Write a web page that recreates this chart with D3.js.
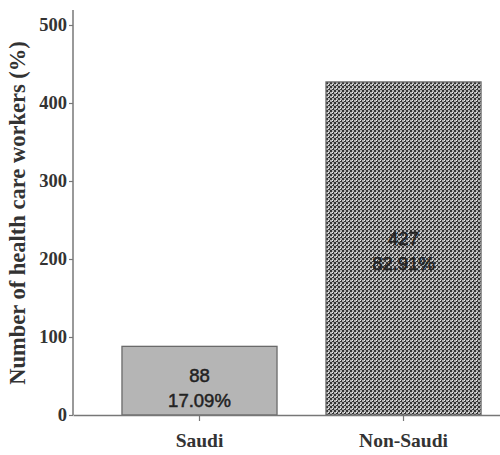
<!DOCTYPE html>
<html>
<head>
<meta charset="utf-8">
<script src="https://cdn.jsdelivr.net/npm/d3@7"></script>
<style>
  body { margin: 0; background: #fff; }
  svg { display: block; }
</style>
</head>
<body>
<div id="chart"></div>
<script>
// Chart data
const categories = ["Saudi", "Non-Saudi"];
const counts = [88, 427];
const percents = ["17.09%", "82.91%"];
const yTicks = [0, 100, 200, 300, 400, 500];

const width = 500, height = 455;

const svg = d3.select("#chart").append("svg")
    .attr("width", width)
    .attr("height", height);

// Checkered fill for the second bar
const defs = svg.append("defs");
const pat = defs.append("pattern")
    .attr("id", "checker")
    .attr("patternUnits", "userSpaceOnUse")
    .attr("width", 4)
    .attr("height", 4);
pat.append("rect").attr("width", 4).attr("height", 4).attr("fill", "#b4b4b4");
pat.append("rect").attr("x", 0).attr("y", 0).attr("width", 2).attr("height", 2).attr("fill", "#353535");
pat.append("rect").attr("x", 2).attr("y", 2).attr("width", 2).attr("height", 2).attr("fill", "#353535");
pat.append("rect").attr("x", 0).attr("y", 0).attr("width", 1).attr("height", 1).attr("fill", "#eeeeee");

const x = d3.scaleBand()
    .domain(categories)
    .range([73, 530])
    .paddingInner(0.24)
    .paddingOuter(0.24);

const y = d3.scaleLinear()
    .domain([0, 500])
    .range([415, 25]);

const axisColor = "#777";
const serif = "'Liberation Serif', 'Times New Roman', serif";

// Bars
svg.selectAll("rect.bar")
    .data(categories)
    .enter().append("rect")
    .attr("class", "bar")
    .attr("x", d => x(d))
    .attr("y", (d, i) => y(counts[i]))
    .attr("width", x.bandwidth())
    .attr("height", (d, i) => y(0) - y(counts[i]))
    .attr("fill", (d, i) => i === 0 ? "#b5b5b5" : "url(#checker)")
    .attr("stroke", "#6a6a6a")
    .attr("stroke-width", 1.3);

// Bar labels (baselines)
const labelBase = [382, 245];
const labels = svg.selectAll("g.lab")
    .data(categories)
    .enter().append("g")
    .attr("class", "lab")
    .attr("transform", (d, i) => `translate(${x(d) + x.bandwidth() / 2},${labelBase[i]})`)
    .attr("font-family", "Arial, 'Liberation Sans', sans-serif")
    .attr("font-size", "18.5px")
    .attr("fill", "#222")
    .attr("stroke", "#222")
    .attr("stroke-width", 0.5)
    .attr("text-anchor", "middle");

labels.append("text").attr("y", 0).text((d, i) => counts[i]);
labels.append("text").attr("y", 25).text((d, i) => percents[i]);

// Y axis
const yAxis = svg.append("g")
    .attr("transform", "translate(73,0)")
    .call(d3.axisLeft(y).tickValues(yTicks).tickSize(4).tickSizeOuter(0).tickPadding(2));
yAxis.select(".domain").remove();
yAxis.append("line")
    .attr("x1", 0).attr("x2", 0)
    .attr("y1", 10).attr("y2", 415)
    .attr("stroke", axisColor)
    .attr("stroke-width", 1.5);
yAxis.selectAll(".tick line").attr("stroke", axisColor).attr("stroke-width", 1.2);
yAxis.selectAll(".tick text")
    .attr("font-family", serif)
    .attr("font-weight", "bold")
    .attr("font-size", "18.5px")
    .attr("fill", "#333");

// X axis
const xAxis = svg.append("g")
    .attr("transform", "translate(0,415)")
    .call(d3.axisBottom(x).tickSize(6).tickSizeOuter(0).tickPadding(12));
xAxis.select(".domain").attr("stroke", axisColor).attr("stroke-width", 1.5);
xAxis.selectAll(".tick line").attr("stroke", axisColor).attr("stroke-width", 1.2);
xAxis.selectAll(".tick text")
    .attr("font-family", serif)
    .attr("font-weight", "bold")
    .attr("font-size", "19.5px")
    .attr("fill", "#333");

// Y axis title
svg.append("text")
    .attr("transform", "translate(25,213) rotate(-90)")
    .attr("text-anchor", "middle")
    .attr("font-family", serif)
    .attr("font-weight", "bold")
    .attr("font-size", "22.5px")
    .attr("fill", "#333")
    .text("Number of health care workers (%)");
</script>
</body>
</html>
